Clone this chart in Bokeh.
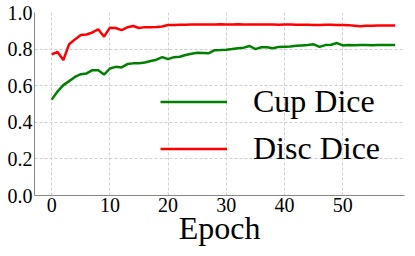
from bokeh.plotting import figure
from bokeh.models import Range1d, FixedTicker, Legend, LegendItem
from bokeh.embed import file_html
from bokeh.resources import INLINE

epochs = list(range(60))
cup_dice = [0.524, 0.568, 0.603, 0.625, 0.648, 0.663, 0.667, 0.685, 0.685, 0.661,
            0.694, 0.703, 0.700, 0.718, 0.722, 0.723, 0.727, 0.735, 0.742, 0.756,
            0.745, 0.756, 0.758, 0.768, 0.775, 0.780, 0.779, 0.778, 0.794, 0.795,
            0.797, 0.800, 0.805, 0.808, 0.817, 0.800, 0.810, 0.810, 0.805, 0.812,
            0.813, 0.814, 0.818, 0.820, 0.822, 0.826, 0.812, 0.822, 0.824, 0.833,
            0.820, 0.822, 0.821, 0.822, 0.822, 0.821, 0.822, 0.822, 0.823, 0.823]
disc_dice = [0.771, 0.784, 0.740, 0.827, 0.853, 0.877, 0.880, 0.891, 0.908, 0.868,
             0.917, 0.915, 0.904, 0.919, 0.926, 0.915, 0.920, 0.920, 0.921, 0.924,
             0.932, 0.932, 0.933, 0.933, 0.934, 0.934, 0.935, 0.935, 0.934, 0.936,
             0.935, 0.935, 0.936, 0.934, 0.935, 0.935, 0.934, 0.935, 0.934, 0.933,
             0.934, 0.934, 0.933, 0.933, 0.933, 0.932, 0.932, 0.933, 0.933, 0.932,
             0.932, 0.931, 0.928, 0.925, 0.927, 0.928, 0.929, 0.929, 0.929, 0.929]
x_ticks = [0, 10, 20, 30, 40, 50]
y_ticks = [0.0, 0.2, 0.4, 0.6, 0.8, 1.0]
x_title = "Epoch"

FONT = "Liberation Serif"

p = figure(width=407, height=248, output_backend="svg", toolbar_location=None,
           x_range=Range1d(-2.95, 60.6), y_range=Range1d(0, 1),
           min_border_left=34, min_border_right=3, min_border_top=12, min_border_bottom=53)
p.outline_line_color = None

r_cup = p.line(epochs, cup_dice, line_color="green", line_width=2.5)
r_disc = p.line(epochs, disc_dice, line_color="red", line_width=2.5)

for ax in (p.xaxis[0], p.yaxis[0]):
    ax.axis_line_color = "#888888"
    ax.axis_line_width = 1
    ax.major_tick_out = 0
    ax.major_tick_in = 0
    ax.minor_tick_out = 0
    ax.minor_tick_in = 0
    ax.major_label_text_font = FONT
    ax.major_label_text_font_size = "20px"
    ax.major_label_text_color = "black"
    ax.major_label_standoff = 2

p.xaxis.ticker = FixedTicker(ticks=x_ticks)
p.yaxis.ticker = FixedTicker(ticks=y_ticks)
p.yaxis.major_label_overrides = {t: f"{t:.1f}" for t in y_ticks}
p.xaxis.axis_label = x_title
p.xaxis.axis_label_text_font = FONT
p.xaxis.axis_label_text_font_size = "32px"
p.xaxis.axis_label_text_font_style = "normal"
p.xaxis.axis_label_text_color = "black"
p.xaxis.axis_label_standoff = -5

for g in (p.xgrid[0], p.ygrid[0]):
    g.grid_line_color = "#d0d0d0"
    g.grid_line_dash = "3 2"
    g.grid_line_width = 1

legend = Legend(items=[LegendItem(label="Cup Dice", renderers=[r_cup]),
                       LegendItem(label="Disc Dice", renderers=[r_disc])],
                location=(126, 23), padding=0, margin=0, spacing=0,
                glyph_width=67, glyph_height=47, label_height=47,
                label_standoff=26, label_text_font=FONT,
                label_text_font_size="32px", label_text_color="black",
                border_line_alpha=0, background_fill_alpha=0)
p.add_layout(legend, "center")

open("out.html", "w").write(file_html(p, INLINE))
